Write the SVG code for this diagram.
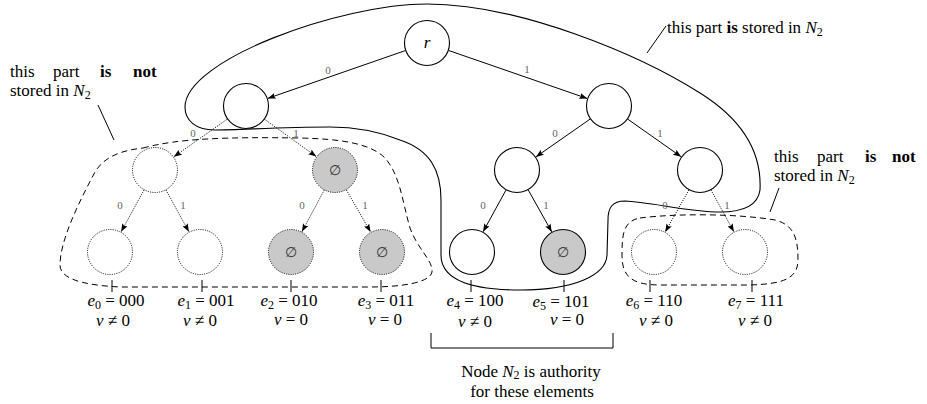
<svg xmlns="http://www.w3.org/2000/svg" width="927" height="404" viewBox="0 0 927 404" font-family="'Liberation Serif', 'Times New Roman', serif">
<style>
text{font-family:"Liberation Serif","Times New Roman",serif;fill:#000}
.t{font-size:17px}
.m{font-style:italic}
.b{font-weight:bold}
.s{font-size:12px;baseline-shift:-3px}
.el{font-size:11px;fill:#666;text-anchor:middle}
.n{fill:#fff;stroke:#000;stroke-width:1.1}
.nd{fill:#fff;stroke:#000;stroke-width:1;stroke-dasharray:1 1.3}
.g{fill:#c9c9c9}
.e{stroke:#000;stroke-width:1;fill:none;marker-end:url(#ah)}
.ed{stroke:#000;stroke-width:1;fill:none;stroke-dasharray:1 1.3;marker-end:url(#ah)}
.blob{fill:none;stroke:#000;stroke-width:1.1}
.dash{fill:none;stroke:#000;stroke-width:1;stroke-dasharray:6 4}
.ln{stroke:#000;stroke-width:1;fill:none}
.es{font-family:"DejaVu Serif",serif;font-size:14px;fill:#333;text-anchor:middle}
.c{text-anchor:middle}
</style>
<defs>
<marker id="ah" viewBox="0 0 8 6" refX="8" refY="3" markerWidth="8" markerHeight="6" orient="auto" markerUnits="userSpaceOnUse">
<path d="M0,0 L8,3 L0,6 L1.5,3 z" fill="#000"/>
</marker>
</defs>

<g id="regions">
<path class="blob" d="M427 4 C520 4 640 55 700 93 C740 118 762 150 760 190 C758 205 745 212 720 212 C690 212 650 202 625 201 C612 201 608 208 608 220 L607 255 C606 275 575 290 520 290 C470 290 441 280 441 255 L441 200 C441 170 430 150 400 140 C380 132 360 127 330 127 C280 127 240 130 215 130 C195 130 185 120 185 107 C185 60 340 4 427 4 Z"/>
<path class="dash" d="M143 148 C180 138 230 137 300 138 C340 139 370 143 385 158 C400 175 402 200 410 228 C418 250 433 260 432 272 C430 283 400 287 370 287 L120 287 C80 285 60 278 60 265 C60 240 80 200 95 172 C105 155 125 150 143 148 Z"/>
<path class="dash" d="M640 218 C680 213 740 214 775 220 C795 225 798 240 798 260 C798 280 780 284 750 285 L660 285 C630 285 622 275 622 255 C622 235 623 221 640 218 Z"/>
</g>

<g id="connectors">
<line class="e" x1="405.3" y1="50.6" x2="267.7" y2="98.4"/>
<line class="e" x1="448.7" y1="50.5" x2="587.3" y2="98.5"/>
<line class="ed" x1="227.2" y1="119.2" x2="173.8" y2="156.8"/>
<line class="ed" x1="264.7" y1="119.4" x2="316.3" y2="156.6"/>
<line class="e" x1="590.1" y1="119.1" x2="535.9" y2="156.9"/>
<line class="e" x1="627.8" y1="119.2" x2="681.2" y2="156.8"/>
<line class="ed" x1="143.9" y1="190.2" x2="121.1" y2="231.8"/>
<line class="ed" x1="166.1" y1="190.2" x2="188.9" y2="231.8"/>
<line class="ed" x1="324.1" y1="190.3" x2="301.9" y2="231.7"/>
<line class="ed" x1="346.4" y1="190" x2="370.6" y2="232"/>
<line class="e" x1="505.9" y1="190.2" x2="483.1" y2="231.8"/>
<line class="e" x1="528.3" y1="190.1" x2="551.8" y2="231.9"/>
<line class="ed" x1="688.8" y1="190.1" x2="665.2" y2="231.9"/>
<line class="ed" x1="711.1" y1="190.2" x2="733.9" y2="231.8"/>
<text class="el" x="328" y="74">0</text>
<text class="el" x="527" y="73">1</text>
<text class="el" x="193" y="137">0</text>
<text class="el" x="296" y="137">1</text>
<text class="el" x="555" y="137">0</text>
<text class="el" x="660" y="137">1</text>
<text class="el" x="120" y="209">0</text>
<text class="el" x="183" y="209">1</text>
<text class="el" x="302" y="209">0</text>
<text class="el" x="365" y="209">1</text>
<text class="el" x="483" y="209">0</text>
<text class="el" x="546" y="209">1</text>
<text class="el" x="665" y="209">0</text>
<text class="el" x="727" y="209">1</text>
</g>

<g id="node-r"><circle class="n" cx="427" cy="43" r="22.5"/><text class="t m c" x="427" y="48">r</text></g>
<g id="node-0"><circle class="n" cx="246" cy="106" r="22.5"/></g>
<g id="node-1"><circle class="n" cx="609" cy="106" r="22.5"/></g>
<g id="node-00"><circle class="nd" cx="155" cy="170" r="22.5"/></g>
<g id="node-01"><circle class="nd g" cx="335" cy="170" r="22.5"/><text class="es" x="335" y="175">∅</text></g>
<g id="node-10"><circle class="n" cx="517" cy="170" r="22.5"/></g>
<g id="node-11"><circle class="n" cx="700" cy="170" r="22.5"/></g>
<g id="leaf-000"><circle class="nd" cx="110" cy="252" r="22.5"/></g>
<g id="leaf-001"><circle class="nd" cx="200" cy="252" r="22.5"/></g>
<g id="leaf-010"><circle class="nd g" cx="291" cy="252" r="22.5"/><text class="es" x="291" y="257">∅</text></g>
<g id="leaf-011"><circle class="nd g" cx="382" cy="252" r="22.5"/><text class="es" x="382" y="257">∅</text></g>
<g id="leaf-100"><circle class="n" cx="472" cy="252" r="22.5"/></g>
<g id="leaf-101"><circle class="n g" cx="563" cy="252" r="22.5"/><text class="es" x="563" y="257">∅</text></g>
<g id="leaf-110"><circle class="nd" cx="654" cy="252" r="22.5"/></g>
<g id="leaf-111"><circle class="nd" cx="745" cy="252" r="22.5"/></g>

<g id="ticks">
<line class="ln" x1="112" y1="280" x2="112" y2="292"/>
<line class="ln" x1="202" y1="280" x2="202" y2="292"/>
<line class="ln" x1="291" y1="280" x2="291" y2="292"/>
<line class="ln" x1="381" y1="280" x2="381" y2="292"/>
<line class="ln" x1="471" y1="280" x2="471" y2="292"/>
<line class="ln" x1="564" y1="280" x2="564" y2="292"/>
<line class="ln" x1="650" y1="280" x2="650" y2="292"/>
<line class="ln" x1="752" y1="280" x2="752" y2="292"/>
</g>

<g id="element-labels">
<text class="t c" x="116" y="306"><tspan class="m">e</tspan><tspan class="s">0</tspan> = 000</text>
<text class="t c" x="206" y="306"><tspan class="m">e</tspan><tspan class="s">1</tspan> = 001</text>
<text class="t c" x="289" y="306"><tspan class="m">e</tspan><tspan class="s">2</tspan> = 010</text>
<text class="t c" x="386" y="306"><tspan class="m">e</tspan><tspan class="s">3</tspan> = 011</text>
<text class="t c" x="475" y="306"><tspan class="m">e</tspan><tspan class="s">4</tspan> = 100</text>
<text class="t c" x="561" y="307"><tspan class="m">e</tspan><tspan class="s">5</tspan> = 101</text>
<text class="t c" x="654" y="306"><tspan class="m">e</tspan><tspan class="s">6</tspan> = 110</text>
<text class="t c" x="756" y="306"><tspan class="m">e</tspan><tspan class="s">7</tspan> = 111</text>
<text class="t c" x="113" y="326"><tspan class="m">v</tspan> ≠ 0</text>
<text class="t c" x="200" y="326"><tspan class="m">v</tspan> ≠ 0</text>
<text class="t c" x="291" y="325"><tspan class="m">v</tspan> = 0</text>
<text class="t c" x="385" y="325"><tspan class="m">v</tspan> = 0</text>
<text class="t c" x="475" y="327"><tspan class="m">v</tspan> ≠ 0</text>
<text class="t c" x="567" y="325"><tspan class="m">v</tspan> = 0</text>
<text class="t c" x="656" y="326"><tspan class="m">v</tspan> ≠ 0</text>
<text class="t c" x="755" y="326"><tspan class="m">v</tspan> ≠ 0</text>
</g>

<g id="annotations">
<text class="t" x="667" y="33">this part <tspan class="b">is</tspan> stored in <tspan class="m">N</tspan><tspan class="s">2</tspan></text>
<line class="ln" x1="666" y1="26" x2="647" y2="53"/>
<text class="t" y="77"><tspan x="10">this</tspan><tspan x="53">part</tspan><tspan class="b" x="100">is</tspan><tspan class="b" x="133">not</tspan></text>
<text class="t" x="10" y="96">stored in <tspan class="m">N</tspan><tspan class="s">2</tspan></text>
<line class="ln" x1="98" y1="105" x2="114" y2="140"/>
<text class="t" y="162"><tspan x="774">this</tspan><tspan x="817">part</tspan><tspan class="b" x="865">is</tspan><tspan class="b" x="892">not</tspan></text>
<text class="t" x="774" y="181">stored in <tspan class="m">N</tspan><tspan class="s">2</tspan></text>
<line class="ln" x1="779" y1="188" x2="770" y2="212"/>
<polyline class="ln" points="431,333 431,348 613,348 613,333"/>
<text class="t c" x="531" y="377">Node <tspan class="m">N</tspan><tspan font-size="12" baseline-shift="-2">2</tspan> is authority</text>
<text class="t c" x="532" y="397">for these elements</text>
</g>
</svg>
